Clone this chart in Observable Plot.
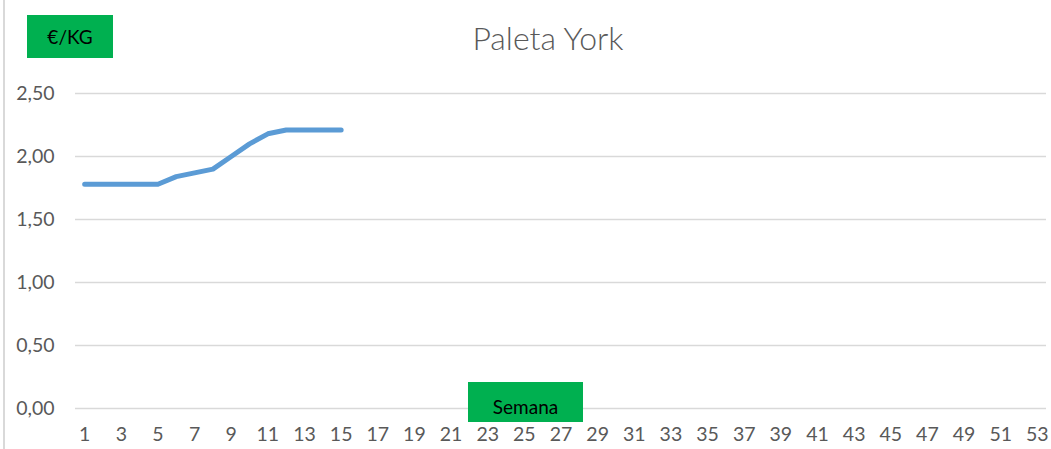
<!DOCTYPE html>
<html>
<head>
<meta charset="utf-8">
<script src="https://cdn.jsdelivr.net/npm/d3@7"></script>
<script src="https://cdn.jsdelivr.net/npm/@observablehq/plot@0.6"></script>
<style>
  html, body { margin: 0; padding: 0; background: #fff; }
  #wrap { position: relative; width: 1051px; height: 449px; overflow: hidden; font-family: Lato, "Open Sans", sans-serif; }
  #border { position: absolute; left: 3px; top: 0; width: 0; height: 449px; border-left: 2px solid #d9d9d9; }
  #title { position: absolute; left: 0; width: 1096px; top: 18px; text-align: center; font-size: 32px; font-weight: 300; color: #595959; }
  .box { position: absolute; background: #00B050; color: #000; display: flex; align-items: center; justify-content: center; font-size: 19px; }
  #ylab { left: 27px; top: 15px; width: 86px; height: 43px; }
  #xlab { left: 468px; top: 382px; width: 115px; height: 40px; padding-top: 8px; box-sizing: border-box; }
</style>
</head>
<body>
<div id="wrap">
  <div id="chart"></div>
  <div id="border"></div>
  <div id="title">Paleta York</div>
  <div class="box" id="ylab">€/KG</div>
  <div class="box" id="xlab">Semana</div>
</div>
<script>
const weeks = [1, 2, 3, 4, 5, 6, 7, 8, 9, 10, 11, 12, 13, 14, 15];
const prices = [1.78, 1.78, 1.78, 1.78, 1.78, 1.84, 1.87, 1.90, 2.00, 2.10, 2.18, 2.21, 2.21, 2.21, 2.21];
const xTicks = d3.range(1, 54, 2);
const yTicks = [0, 0.5, 1, 1.5, 2, 2.5];

const data = weeks.map((w, i) => ({week: w, price: prices[i]}));
const fmt = v => v.toFixed(2).replace(".", ",");

const chart = Plot.plot({
  width: 1051,
  height: 449,
  marginTop: 93,
  marginBottom: 41,
  marginLeft: 75,
  marginRight: 5,
  style: {fontFamily: "Lato, 'Open Sans', sans-serif", fontSize: "19.5px", color: "#595959", background: "transparent"},
  x: {domain: [0.5, 53.5], ticks: xTicks, tickSize: 0, tickPadding: 19, tickFormat: d => String(d), label: null},
  y: {domain: [0, 2.5], ticks: yTicks, tickSize: 0, tickPadding: 21, tickFormat: fmt, label: null},
  marks: [
    Plot.ruleY(yTicks, {stroke: "#d9d9d9", strokeWidth: 1.5}),
    Plot.line(data, {x: "week", y: "price", stroke: "#5B9BD5", strokeWidth: 5, strokeLinecap: "round", strokeLinejoin: "round"})
  ]
});
document.getElementById("chart").appendChild(chart);
</script>
</body>
</html>
